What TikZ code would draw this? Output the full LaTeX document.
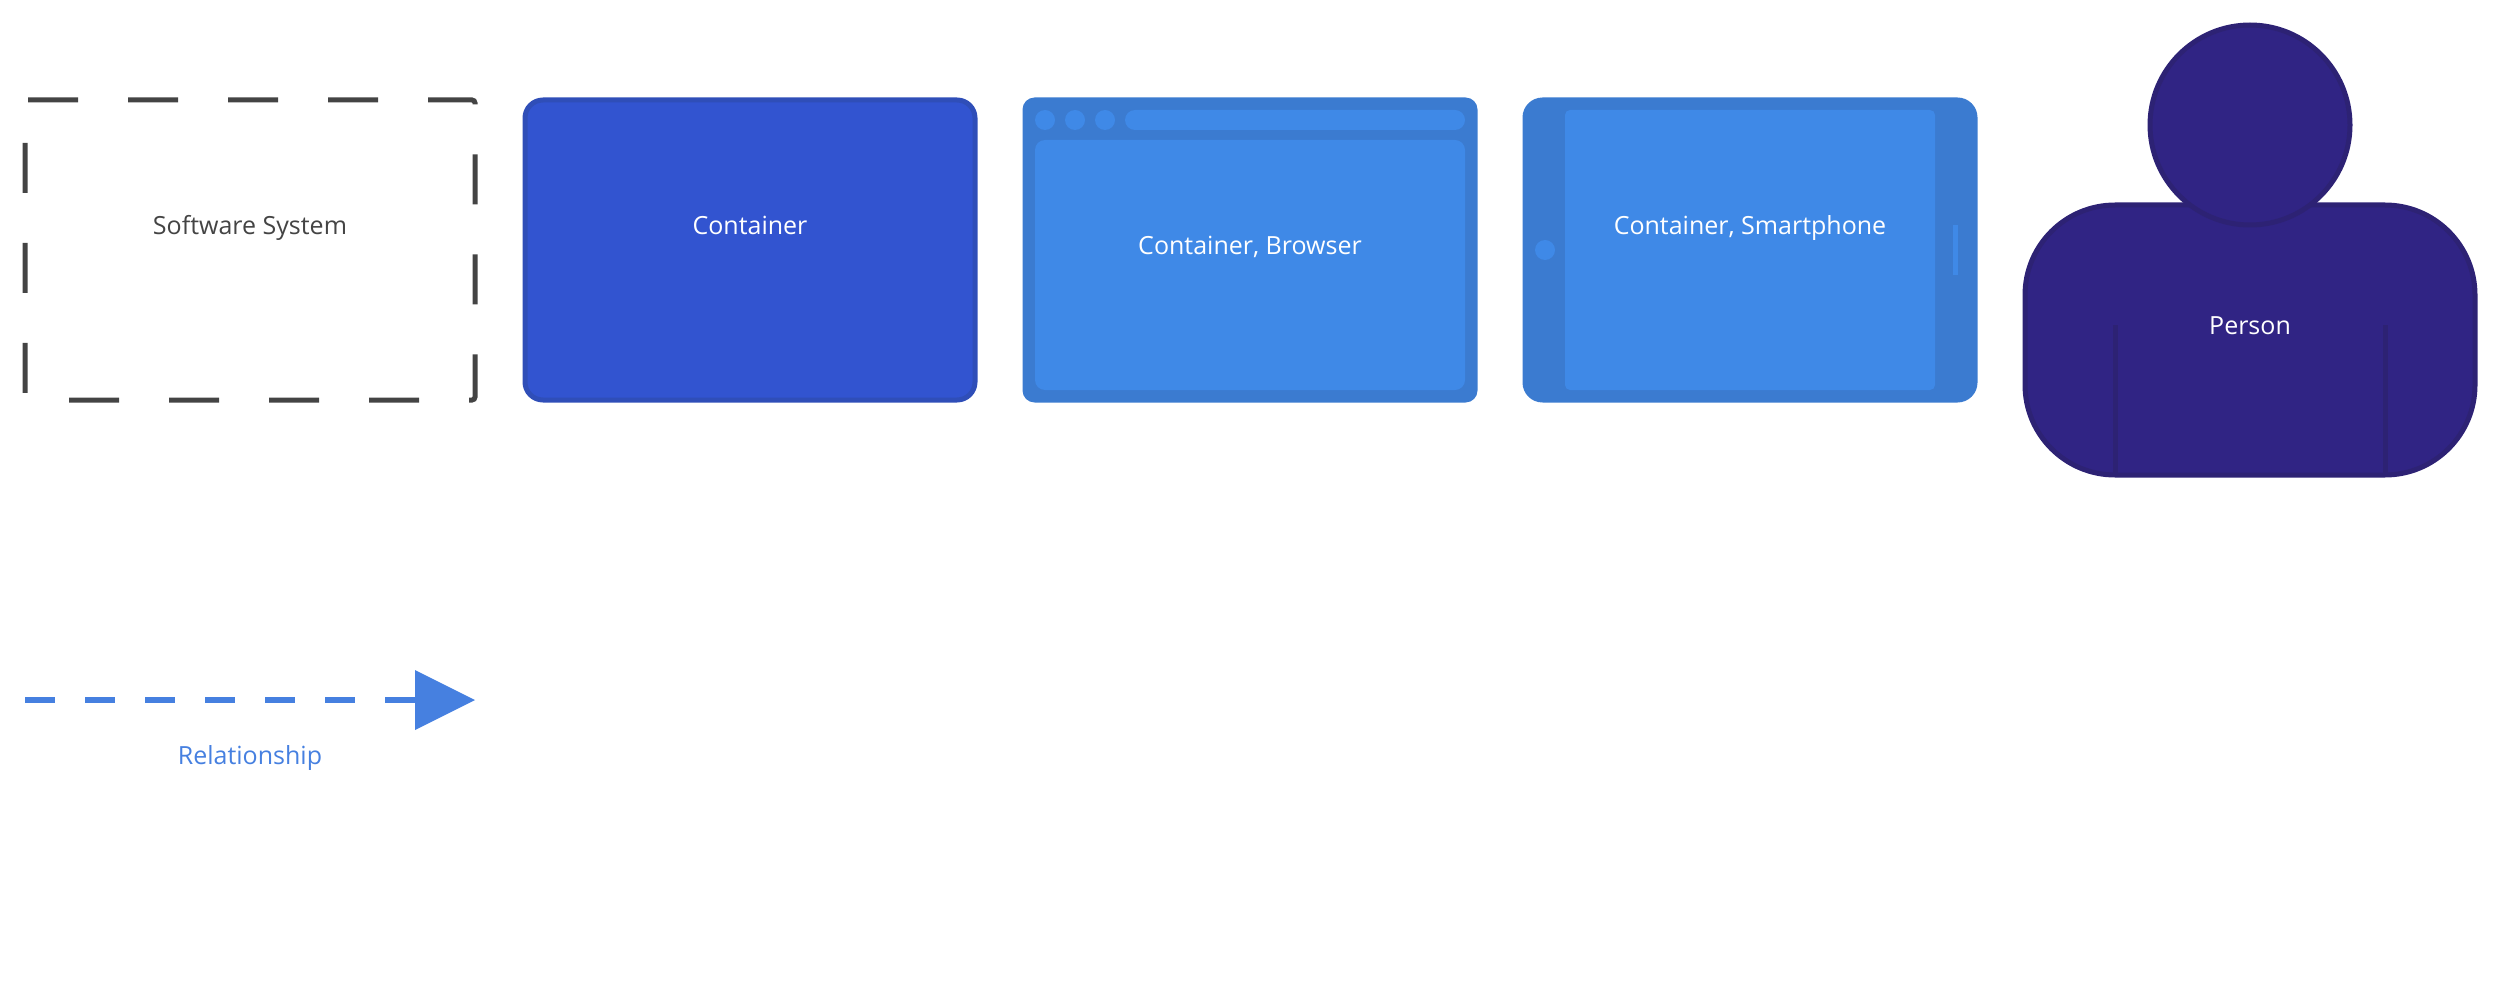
\documentclass[tikz,border=0pt]{standalone}
\usepackage{fontspec}
\setmainfont{Open Sans}
\usetikzlibrary{arrows.meta}
\definecolor{sysgrey}{HTML}{444444}
\definecolor{contfill}{HTML}{3254D0}
\definecolor{contline}{HTML}{2F4EB8}
\definecolor{devouter}{HTML}{3B7BD0}
\definecolor{devinner}{HTML}{3F89E7}
\definecolor{persfill}{HTML}{302484}
\definecolor{persline}{HTML}{2D2274}
\definecolor{relblue}{HTML}{4680E0}
\tikzset{
  x=1pt,y=-1pt,
  lbl/.style={inner sep=0pt,outer sep=0pt,font=\fontsize{25}{30}\selectfont,text=white,anchor=base},
  syslbl/.style={lbl,text=sysgrey},
  rellbl/.style={lbl,text=relblue},
  sysbox/.style={draw=sysgrey,line width=5pt,dash pattern=on 50pt off 50pt,rounded corners=3pt},
  contbox/.style={fill=contfill,draw=contline,line width=5pt,rounded corners=18pt},
  devbody/.style={fill=devouter},
  devpart/.style={fill=devinner},
  persbody/.style={fill=persfill,draw=persline,line width=5pt},
  relline/.style={draw=relblue,line width=5.5pt,dash pattern=on 30pt off 30pt,-{Triangle[length=60pt,width=60pt,round=false,line width=0pt,fill=relblue]}},
}
\begin{document}
\begin{tikzpicture}
\useasboundingbox (0,0) rectangle (2500,1000);
% software system
\draw[sysbox] (28,100) -- (475,100) -- (475,400) -- (25,400) -- (25,100);
\node[syslbl] (sys) at (250,234.2) {Software System};
% container
\path[contbox] (525,100) rectangle (975,400);
\node[lbl] (cont) at (750,234.2) {Container};
% browser
\path[devbody,rounded corners=12pt] (1022.5,97.5) rectangle (1477.5,402.5);
\fill[devpart] (1045,120) circle[radius=10];
\fill[devpart] (1075,120) circle[radius=10];
\fill[devpart] (1105,120) circle[radius=10];
\path[devpart,rounded corners=10pt] (1125,110) rectangle (1465,130);
\path[devpart,rounded corners=10pt] (1035,140) rectangle (1465,390);
\node[lbl] (browser) at (1250,254.2) {Container, Browser};
% smartphone
\path[devbody,rounded corners=20pt] (1522.5,97.5) rectangle (1977.5,402.5);
\path[devpart,rounded corners=5pt] (1565,110) rectangle (1935,390);
\fill[devpart] (1545,250) circle[radius=10];
\fill[devpart] (1952.5,225) rectangle (1957.5,275);
\node[lbl] (phone) at (1750,234.2) {Container, Smartphone};
% person
\path[persbody,rounded corners=90pt] (2025,205) rectangle (2475,475);
\draw[persline,line width=5pt] (2115,325) -- (2115,475);
\draw[persline,line width=5pt] (2385,325) -- (2385,475);
\path[persbody] (2250,125) circle[radius=100];
\node[lbl] (person) at (2250,334.2) {Person};
% relationship
\coordinate (relstart) at (25,700);
\coordinate (relend) at (475,700);
\draw[relline] (relstart) -- (relend);
\node[rellbl] (rel) at (250,764.2) {Relationship};
\end{tikzpicture}
\end{document}
